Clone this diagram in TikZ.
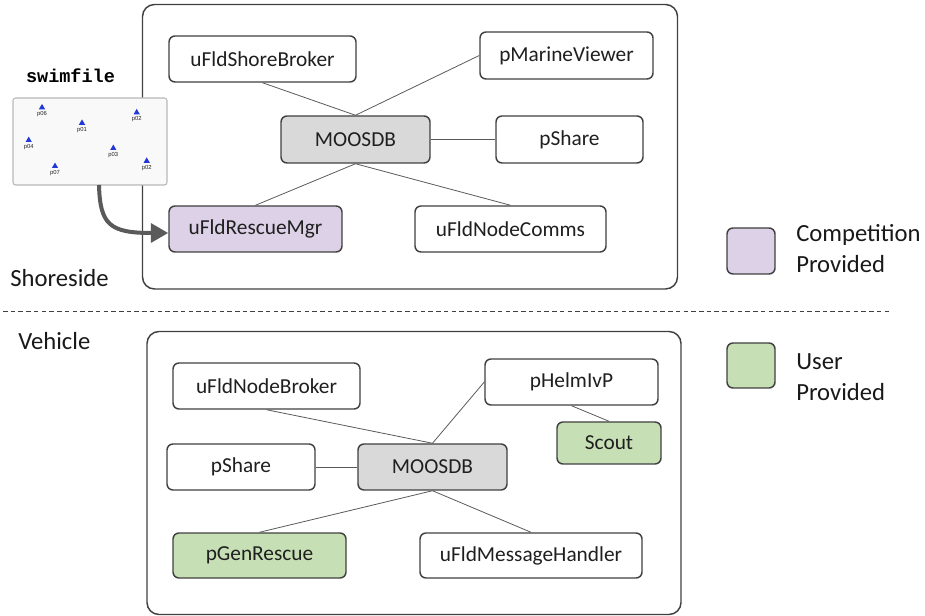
\documentclass[tikz,border=0pt]{standalone}
\usepackage{fontspec}
\setmainfont{Carlito}
\setmonofont{Liberation Mono}
\newfontfamily\trifont{Liberation Sans}
\usetikzlibrary{arrows.meta,fit,shapes.geometric}
\definecolor{bordc}{HTML}{404040}
\definecolor{linec}{HTML}{5A5A5A}
\definecolor{dbgray}{HTML}{D9D9D9}
\definecolor{purp}{HTML}{DDD1E7}
\definecolor{grn}{HTML}{C6DFB5}
\definecolor{arrc}{HTML}{5A5A5A}
\definecolor{tribl}{HTML}{2238D8}
\definecolor{swimbg}{HTML}{F9F9F9}
\definecolor{swimbd}{HTML}{B8B8B8}
\begin{document}
\begin{tikzpicture}[x=0.75pt,y=-0.75pt,
  groupbox/.style={draw=bordc, line width=1.1pt, rounded corners=9pt, inner sep=0pt},
  modbox/.style={draw=bordc, line width=1.1pt, rounded corners=4.5pt, inner sep=0pt, fill=white,
    font=\fontsize{16}{19}\selectfont, text=black!88, minimum height=34.5pt},
  dbbox/.style={modbox, fill=dbgray},
  compbox/.style={modbox, fill=purp},
  userbox/.style={modbox, fill=grn},
  legsq/.style={draw=bordc, line width=1.1pt, rounded corners=4.5pt, inner sep=0pt},
  bigtext/.style={inner sep=0pt, font=\fontsize{18.5}{22}\selectfont, text=black!90},
  conn/.style={draw=linec, line width=0.6pt},
  sepline/.style={draw=bordc, line width=1.1pt, dash pattern=on 3.4pt off 2.4pt},
  swimarrow/.style={draw=arrc, line width=3pt, -{Triangle[length=13pt,width=14pt]}},
  tri/.style={regular polygon, regular polygon sides=3, fill=tribl, inner sep=0pt, minimum size=5.4pt},
  trilbl/.style={inner sep=0pt, font=\trifont\fontsize{4.4}{5}\selectfont, text=black!85}
]
\useasboundingbox (0,0) rectangle (925,616);

% group boxes
\node[groupbox, fit={(142.5,4.5) (677.5,289)}] (shore) {};
\node[groupbox, fit={(147,331.5) (681,614.5)}] (veh) {};

% shoreside modules
\node[modbox, minimum width=140.25pt] (sb) at (262.5,59) {uFldShoreBroker};
\node[modbox, minimum width=129.75pt, minimum height=35.25pt] (mv) at (566.5,55.5) {pMarineViewer};
\node[dbbox, minimum width=111.75pt, minimum height=35.25pt] (db1) at (355.5,139.5) {MOOSDB};
\node[modbox, minimum width=110.25pt, minimum height=35.25pt] (ps1) at (569.5,139.5) {pShare};
\node[compbox, minimum width=129.75pt] (rm) at (255.5,229) {uFldRescueMgr};
\node[modbox, minimum width=143.25pt] (nc) at (510.5,229) {uFldNodeComms};

\draw[conn] (sb.south) -- (db1.north);
\draw[conn] (mv.west) -- (db1.north);
\draw[conn] (db1.east) -- (ps1.west);
\draw[conn] (db1.south) -- (rm.north);
\draw[conn] (db1.south) -- (nc.north);

% vehicle modules
\node[modbox, minimum width=140.25pt] (nb) at (266.5,386) {uFldNodeBroker};
\node[modbox, minimum width=129.75pt] (hv) at (571.5,382) {pHelmIvP};
\node[userbox, minimum width=78pt, minimum height=31.5pt] (sc) at (609,443) {Scout};
\node[modbox, minimum width=111pt] (ps2) at (241,467) {pShare};
\node[dbbox, minimum width=111.75pt] (db2) at (432.5,467) {MOOSDB};
\node[userbox, minimum width=129.75pt, minimum height=33.75pt] (gr) at (259.5,555.5) {pGenRescue};
\node[modbox, minimum width=166.5pt, minimum height=33.75pt] (mh) at (531,555.5) {uFldMessageHandler};

\draw[conn] (nb.south) -- (db2.north);
\draw[conn] (hv.west) -- (db2.north);
\draw[conn] (hv.south) -- (sc.north);
\draw[conn] (ps2.east) -- (db2.west);
\draw[conn] (db2.south) -- (gr.north);
\draw[conn] (db2.south) -- (mh.north);

% section labels and separator
\node[bigtext, anchor=base west] (shorelbl) at (10,287) {Shoreside};
\node[bigtext, anchor=base west] (vehlbl) at (18,350) {Vehicle};
\coordinate (sepl) at (3,311.5);
\coordinate (sepr) at (890,311.5);
\draw[sepline] (sepl) -- (sepr);

% legend
\node[legsq, fill=purp, fit={(727,228) (775,274)}] (legp) {};
\node[bigtext, anchor=base west] (legp1) at (796,242) {Competition};
\node[bigtext, anchor=base west] (legp2) at (796,272.5) {Provided};
\node[legsq, fill=grn, fit={(727,343) (775,388)}] (legg) {};
\node[bigtext, anchor=base west] (legg1) at (796,369.5) {User};
\node[bigtext, anchor=base west] (legg2) at (796,400.5) {Provided};

% swimfile
\node[inner sep=0pt, anchor=base, font=\ttfamily\bfseries\fontsize{13.9}{16}\selectfont] (swimlbl) at (70.5,83) {swimfile};
\node[draw=swimbd, fill=swimbg, line width=0.8pt, rounded corners=2pt, inner sep=0pt, fit={(13,98) (167,185)}] (swim) {};
\foreach \nm/\tx/\ty/\lb in {ta/42/107.5/p06, tb/82/123/p01, tc/136.7/112.5/p02, td/28.7/140.2/p04, te/113.3/148.2/p03, tf/55/166.2/p07, tg/146.7/161/p02}{
  \node[tri] (\nm) at (\tx,\ty) {};
  \node[trilbl, anchor=north] (\nm l) at ([yshift=-1.2pt]\nm.south) {\lb};
}
\coordinate (swimout) at (99,185);
\draw[swimarrow] (swimout) .. controls (100,225) and (110,233) .. (rm.west |- 0,233);
\end{tikzpicture}
\end{document}
